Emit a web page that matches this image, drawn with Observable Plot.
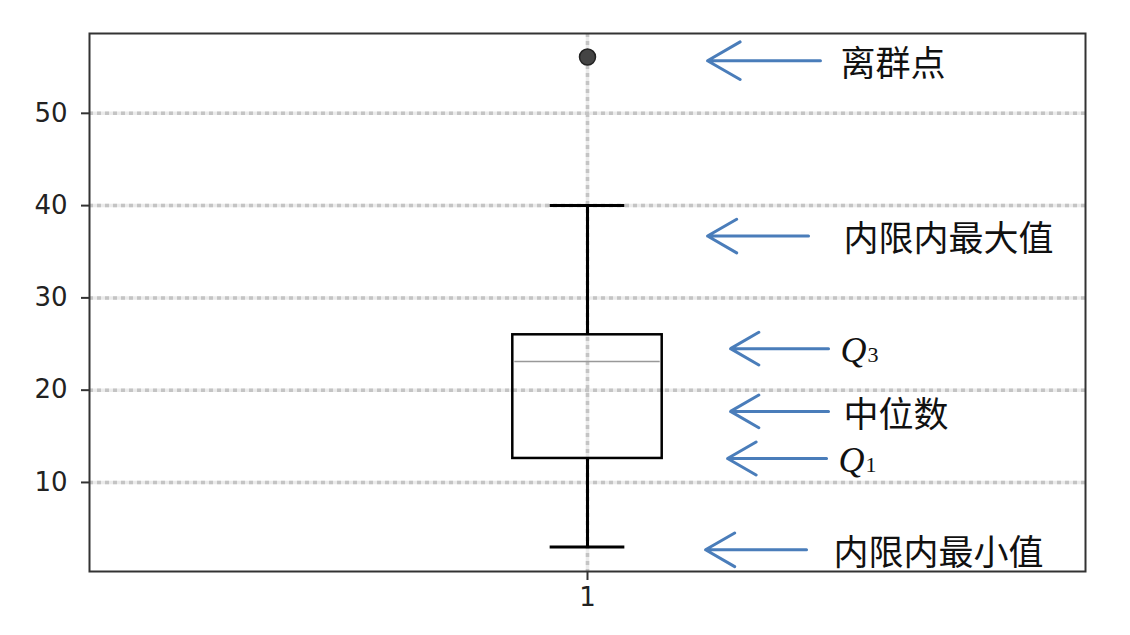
<!DOCTYPE html>
<html><head><meta charset="utf-8">
<script src="https://cdn.jsdelivr.net/npm/d3@7"></script>
<script src="https://cdn.jsdelivr.net/npm/@observablehq/plot@0.6"></script>
<style>
body{margin:0;background:#fff}
g[aria-label*="tick label"] text{font-size:26px !important;font-family:"DejaVu Sans" !important}
</style>
</head><body><div id="chart"></div>
<script>
// ---- data ----
const categories = [1];
const q1Values = [12.6];
const medianValues = [23.1];
const q3Values = [26.0];
const whiskerLowValues = [3.0];
const whiskerHighValues = [40.0];
const outlierValues = [56.1];
const yTickValues = [10, 20, 30, 40, 50];
const xTickValues = [1];
const annotationLabels = ["离群点", "内限内最大值", "Q3", "中位数", "Q1", "内限内最小值"];
const annotationValues = [55.7, 36.7, 24.5, 17.7, 12.6, 2.7];

// ---- layout (x positions in axis units) ----
const boxWidth = 0.15;
const arrowTip  = [1.1205, 1.1205, 1.1436, 1.1436, 1.1406, 1.1185];
const arrowTail = [1.2339, 1.2219, 1.2420, 1.2420, 1.2400, 1.2199];
const textX     = [1.2540, 1.2570, 1.2540, 1.2570, 1.2520, 1.2470];

const boxes = categories.map((c, i) => ({
  x: c, q1: q1Values[i], med: medianValues[i], q3: q3Values[i],
  lo: whiskerLowValues[i], hi: whiskerHighValues[i]
}));
const outliers = outlierValues.map(v => ({x: categories[0], y: v}));
const ann = annotationLabels.map((t, i) => ({
  label: t, y: annotationValues[i], tip: arrowTip[i], tail: arrowTail[i], tx: textX[i],
  isQ: t.startsWith("Q")
}));
const cjk = ann.filter(d => !d.isQ);
const qs = ann.filter(d => d.isQ);

const gridBase = {stroke: "#ebebeb", strokeOpacity: 1, strokeWidth: 3.5};
const gridDash = {stroke: "#c4c4c4", strokeOpacity: 1, strokeWidth: 3.5, strokeDasharray: "4,4"};

const chart = Plot.plot({
  width: 1130, height: 635,
  marginLeft: 89, marginRight: 45, marginTop: 33, marginBottom: 64,
  x: {domain: [0.5, 1.5], label: null},
  y: {domain: [0.35, 58.65], label: null},
  style: {fontFamily: "DejaVu Sans", fontSize: "26px", color: "#222", background: "#fff"},
  marks: [
    Plot.gridY(yTickValues, gridBase),
    Plot.gridX(xTickValues, gridBase),
    Plot.gridY(yTickValues, gridDash),
    Plot.gridX(xTickValues, gridDash),
    Plot.ruleX(boxes, {x: "x", y1: "lo", y2: "q1", stroke: "black", strokeWidth: 3}),
    Plot.ruleX(boxes, {x: "x", y1: "q3", y2: "hi", stroke: "black", strokeWidth: 3}),
    Plot.ruleY(boxes, {y: "lo", x1: d => d.x - boxWidth / 4, x2: d => d.x + boxWidth / 4, stroke: "black", strokeWidth: 3}),
    Plot.ruleY(boxes, {y: "hi", x1: d => d.x - boxWidth / 4, x2: d => d.x + boxWidth / 4, stroke: "black", strokeWidth: 3}),
    Plot.rect(boxes, {x1: d => d.x - boxWidth / 2, x2: d => d.x + boxWidth / 2, y1: "q1", y2: "q3", fill: "none", stroke: "black", strokeWidth: 2.5}),
    Plot.ruleY(boxes, {y: "med", x1: d => d.x - boxWidth / 2 + 0.002, x2: d => d.x + boxWidth / 2 - 0.002, stroke: "#999", strokeWidth: 1.5}),
    Plot.dot(outliers, {x: "x", y: "y", r: 8, fill: "#444", stroke: "#222", strokeWidth: 1.5}),
    Plot.arrow(ann, {x1: "tail", x2: "tip", y1: "y", y2: "y", stroke: "#4a7dba", strokeWidth: 3, headLength: 32, headAngle: 60}),
    Plot.text(cjk, {x: "tx", y: "y", text: "label", textAnchor: "start", dy: 4, fontSize: 35,
      fontFamily: "Noto Sans CJK SC", fill: "#111"}),
    Plot.text(qs, {x: "tx", y: "y", text: d => d.label[0], textAnchor: "start", dy: 2, fontSize: 36,
      fontFamily: "Liberation Serif", fontStyle: "italic", fill: "#111"}),
    Plot.text(qs, {x: "tx", y: "y", text: d => d.label.slice(1), textAnchor: "start", dx: 27, dy: 6, fontSize: 22,
      fontFamily: "Liberation Serif", fill: "#111"}),
    Plot.axisY({ticks: yTickValues, tickSize: 8, tickPadding: 14, stroke: "#333", strokeWidth: 2, fontSize: 26, fill: "#222"}),
    Plot.axisX({ticks: xTickValues, tickFormat: d => String(d), tickSize: 9, tickPadding: 7, stroke: "#333", strokeWidth: 2, fontSize: 26, fill: "#222"}),
    Plot.frame({stroke: "#333", strokeWidth: 2})
  ]
});
document.getElementById("chart").appendChild(chart);
</script>
</body></html>
